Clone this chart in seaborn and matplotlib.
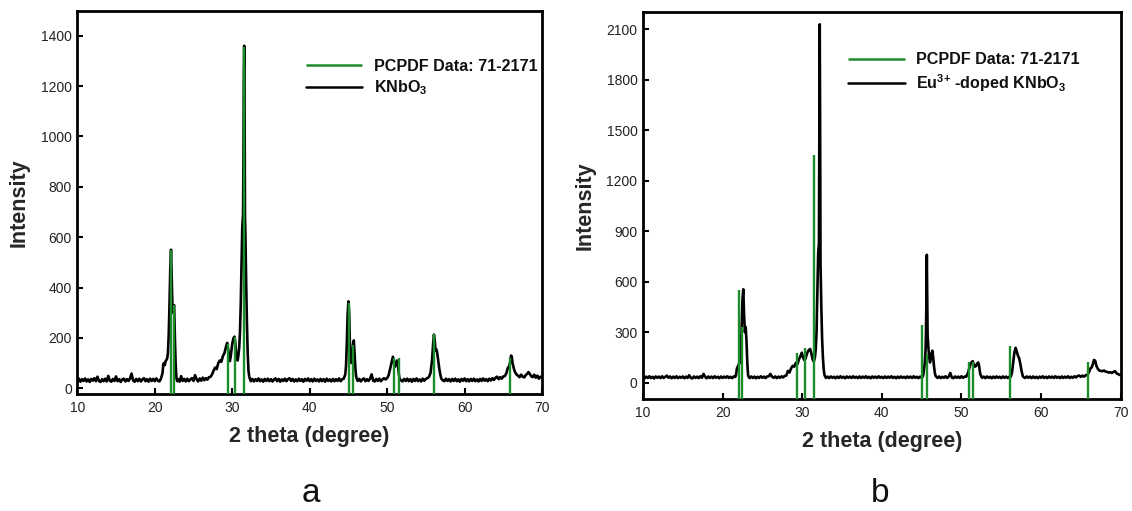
import numpy as np
import pandas as pd
import matplotlib
matplotlib.use("Agg")
import matplotlib.pyplot as plt
import seaborn as sns

# ---------------------------------------------------------------------------
# Reference stick pattern (PCPDF card 71-2171): 2-theta positions and heights
# ---------------------------------------------------------------------------
pcpdf_two_theta = [22.1, 22.5, 29.4, 30.3, 31.5, 45.1, 45.65, 50.9, 51.5, 56.1, 65.9]
pcpdf_intensity = [550, 330, 175, 205, 1355, 340, 170, 120, 120, 215, 120]

# ---------------------------------------------------------------------------
# Measured pattern, undoped KNbO3  (2-theta, intensity)
# ---------------------------------------------------------------------------
knbo3_pattern = [
    (10.0, 30), (10.2, 38), (10.4, 26), (10.6, 36), (10.8, 29), (11.0, 39), (11.2, 27),
    (11.4, 35), (11.6, 25), (11.8, 37), (12.0, 30), (12.2, 40), (12.4, 28), (12.6, 46),
    (12.8, 29), (13.0, 25), (13.2, 36), (13.4, 28), (13.6, 38), (13.8, 27), (14.0, 49),
    (14.2, 30), (14.4, 26), (14.6, 37), (14.8, 29), (15.0, 47), (15.2, 28), (15.4, 36),
    (15.6, 25), (15.8, 35), (16.0, 38), (16.2, 27), (16.4, 36), (16.6, 29), (16.8, 39),
    (17.0, 58), (17.2, 31), (17.4, 26), (17.6, 37), (17.8, 28), (18.0, 38), (18.2, 27),
    (18.4, 35), (18.6, 40), (18.8, 28), (19.0, 36), (19.2, 26), (19.4, 38), (19.6, 29),
    (19.8, 37), (20.0, 28), (20.2, 39), (20.4, 30), (20.6, 27), (20.8, 38),
    (21.0, 60), (21.1, 95), (21.2, 100), (21.3, 92), (21.4, 108), (21.5, 112), (21.6, 118),
    (21.7, 140), (21.8, 210), (21.9, 330), (22.0, 470), (22.1, 550), (22.2, 420),
    (22.3, 300), (22.4, 320), (22.5, 330), (22.6, 200), (22.7, 90), (22.8, 40), (22.9, 28),
    (23.0, 36), (23.2, 26), (23.4, 48), (23.6, 29), (23.8, 37), (24.0, 27), (24.2, 38),
    (24.4, 28), (24.6, 35), (24.8, 40), (25.0, 29), (25.2, 52), (25.4, 36), (25.6, 27),
    (25.8, 39), (26.0, 30), (26.2, 42), (26.4, 32), (26.6, 40), (26.8, 34), (27.0, 44),
    (27.2, 45), (27.4, 55), (27.6, 70), (27.8, 82), (28.0, 76), (28.2, 100), (28.4, 110),
    (28.6, 105), (28.8, 128), (29.0, 140), (29.2, 165), (29.35, 180), (29.5, 150),
    (29.6, 120), (29.7, 108), (29.8, 125), (29.9, 150), (30.0, 175), (30.15, 198),
    (30.3, 205), (30.4, 180), (30.5, 140), (30.6, 118), (30.7, 110), (30.8, 130),
    (30.9, 160), (31.0, 220), (31.1, 330), (31.2, 480), (31.3, 640), (31.4, 690),
    (31.45, 900), (31.5, 1240), (31.55, 1360), (31.6, 1100), (31.65, 680), (31.7, 620),
    (31.8, 420), (31.9, 260), (32.0, 140), (32.1, 70), (32.2, 45), (32.3, 36),
    (32.4, 28), (32.6, 37), (32.8, 27), (33.0, 36), (33.2, 29), (33.4, 39), (33.6, 28),
    (33.8, 35), (34.0, 26), (34.2, 37), (34.4, 29), (34.6, 38), (34.8, 28), (35.0, 36),
    (35.2, 27), (35.4, 35), (35.6, 39), (35.8, 28), (36.0, 37), (36.2, 26), (36.4, 35),
    (36.6, 29), (36.8, 38), (37.0, 28), (37.2, 36), (37.4, 40), (37.6, 29), (37.8, 37),
    (38.0, 27), (38.2, 35), (38.4, 28), (38.6, 38), (38.8, 29), (39.0, 36), (39.2, 26),
    (39.4, 37), (39.6, 30), (39.8, 39), (40.0, 28), (40.2, 36), (40.4, 27), (40.6, 38),
    (40.8, 29), (41.0, 35), (41.2, 27), (41.4, 37), (41.6, 28), (41.8, 36), (42.0, 26),
    (42.2, 38), (42.4, 29), (42.6, 35), (42.8, 27), (43.0, 37), (43.2, 28), (43.4, 36),
    (43.6, 29), (43.8, 39), (44.0, 28), (44.2, 36), (44.4, 38),
    (44.6, 55), (44.7, 90), (44.8, 180), (44.9, 290), (45.0, 345), (45.1, 300),
    (45.2, 170), (45.3, 110), (45.4, 100), (45.5, 130), (45.6, 175), (45.7, 190),
    (45.8, 140), (45.9, 80), (46.0, 48), (46.1, 36),
    (46.2, 29), (46.4, 37), (46.6, 27), (46.8, 35), (47.0, 39), (47.2, 28), (47.4, 36),
    (47.6, 29), (47.8, 38), (48.0, 55), (48.2, 30), (48.4, 27), (48.6, 37), (48.8, 29),
    (49.0, 38), (49.2, 28), (49.4, 35), (49.6, 40), (49.8, 35), (50.0, 40), (50.2, 52),
    (50.4, 78), (50.6, 105), (50.75, 125), (50.9, 100), (51.0, 85), (51.1, 92),
    (51.25, 110), (51.35, 105), (51.5, 60), (51.6, 38),
    (51.8, 31), (52.0, 27), (52.2, 37), (52.4, 29), (52.6, 38), (52.8, 28), (53.0, 36),
    (53.2, 26), (53.4, 37), (53.6, 29), (53.8, 39), (54.0, 28), (54.2, 35), (54.4, 27),
    (54.6, 38), (54.8, 30), (55.0, 37), (55.2, 40), (55.4, 45), (55.6, 60), (55.8, 110),
    (55.95, 180), (56.05, 213), (56.15, 190), (56.25, 150), (56.35, 155), (56.45, 145),
    (56.6, 110), (56.75, 75), (56.9, 50), (57.0, 38),
    (57.2, 31), (57.4, 28), (57.6, 38), (57.8, 29), (58.0, 36), (58.2, 27), (58.4, 37),
    (58.6, 29), (58.8, 38), (59.0, 28), (59.2, 35), (59.4, 26), (59.6, 37), (59.8, 30),
    (60.0, 39), (60.2, 28), (60.4, 36), (60.6, 27), (60.8, 37), (61.0, 29), (61.2, 38),
    (61.4, 28), (61.6, 35), (61.8, 27), (62.0, 37), (62.2, 29), (62.4, 39), (62.6, 30),
    (62.8, 36), (63.0, 28), (63.2, 38), (63.4, 31), (63.6, 40), (63.8, 33), (64.0, 42),
    (64.2, 46), (64.4, 36), (64.6, 44), (64.8, 38), (65.0, 47), (65.2, 48), (65.4, 60),
    (65.6, 82), (65.75, 85), (65.9, 105), (66.0, 130), (66.1, 125), (66.2, 100),
    (66.35, 80), (66.5, 65), (66.7, 55), (66.9, 50), (67.1, 44), (67.3, 54), (67.5, 46),
    (67.7, 43), (67.9, 52), (68.1, 58), (68.25, 64), (68.4, 58), (68.6, 48), (68.8, 44),
    (69.0, 54), (69.2, 42), (69.4, 50), (69.6, 38), (69.8, 46), (70.0, 42),
]

# ---------------------------------------------------------------------------
# Measured pattern, Eu3+-doped KNbO3  (2-theta, intensity)
# ---------------------------------------------------------------------------
eu_knbo3_pattern = [
    (10.0, 35), (10.2, 26), (10.4, 36), (10.6, 28), (10.8, 38), (11.0, 27), (11.2, 35),
    (11.4, 25), (11.6, 37), (11.8, 29), (12.0, 36), (12.2, 27), (12.4, 38), (12.6, 28),
    (12.8, 35), (13.0, 42), (13.2, 29), (13.4, 37), (13.6, 26), (13.8, 36), (14.0, 28),
    (14.2, 38), (14.4, 27), (14.6, 35), (14.8, 29), (15.0, 37), (15.2, 26), (15.4, 36),
    (15.6, 28), (15.8, 44), (16.0, 29), (16.2, 25), (16.4, 37), (16.6, 28), (16.8, 36),
    (17.0, 27), (17.2, 38), (17.4, 29), (17.6, 52), (17.8, 35), (18.0, 26), (18.2, 37),
    (18.4, 28), (18.6, 36), (18.8, 27), (19.0, 38), (19.2, 29), (19.4, 35), (19.6, 26),
    (19.8, 37), (20.0, 28), (20.2, 36), (20.4, 29), (20.6, 38), (20.8, 28), (21.0, 35),
    (21.2, 27), (21.4, 37), (21.6, 34),
    (21.7, 50), (21.8, 85), (21.9, 95), (22.0, 105), (22.1, 118), (22.2, 120), (22.3, 180),
    (22.4, 330), (22.5, 500), (22.6, 555), (22.7, 400), (22.8, 300), (22.9, 330),
    (23.0, 250), (23.1, 120), (23.2, 45), (23.3, 32),
    (23.4, 27), (23.6, 37), (23.8, 28), (24.0, 36), (24.2, 26), (24.4, 35), (24.6, 28),
    (24.8, 38), (25.0, 29), (25.2, 36), (25.4, 27), (25.6, 37), (25.8, 38), (26.0, 52),
    (26.2, 36), (26.4, 29), (26.6, 37), (26.8, 27), (27.0, 36), (27.2, 29), (27.4, 38),
    (27.6, 31), (27.8, 40), (28.0, 42), (28.2, 70), (28.4, 60), (28.6, 85), (28.8, 100),
    (29.0, 95), (29.2, 118), (29.4, 110), (29.6, 140), (29.8, 160), (29.95, 178),
    (30.1, 150), (30.25, 135), (30.4, 140), (30.55, 165), (30.7, 185), (30.85, 195),
    (31.0, 200), (31.15, 175), (31.3, 140), (31.45, 125), (31.6, 150), (31.7, 200),
    (31.8, 300), (31.9, 520), (32.0, 760), (32.05, 800), (32.1, 820), (32.15, 1540),
    (32.2, 2130), (32.25, 1540), (32.3, 700), (32.4, 450), (32.5, 260), (32.6, 150),
    (32.7, 80), (32.8, 45), (32.9, 35),
    (33.0, 28), (33.2, 36), (33.4, 27), (33.6, 37), (33.8, 29), (34.0, 35), (34.2, 26),
    (34.4, 36), (34.6, 28), (34.8, 38), (35.0, 29), (35.2, 35), (35.4, 26), (35.6, 37),
    (35.8, 29), (36.0, 36), (36.2, 28), (36.4, 38), (36.6, 29), (36.8, 35), (37.0, 27),
    (37.2, 37), (37.4, 28), (37.6, 36), (37.8, 29), (38.0, 38), (38.2, 28), (38.4, 35),
    (38.6, 26), (38.8, 37), (39.0, 29), (39.2, 36), (39.4, 28), (39.6, 38), (39.8, 29),
    (40.0, 35), (40.2, 27), (40.4, 37), (40.6, 28), (40.8, 36), (41.0, 29), (41.2, 38),
    (41.4, 28), (41.6, 35), (41.8, 26), (42.0, 36), (42.2, 28), (42.4, 37), (42.6, 29),
    (42.8, 35), (43.0, 27), (43.2, 37), (43.4, 29), (43.6, 36), (43.8, 28), (44.0, 38),
    (44.2, 29), (44.4, 35), (44.6, 27), (44.8, 36), (45.0, 29), (45.1, 33),
    (45.2, 45), (45.3, 80), (45.4, 120), (45.5, 200), (45.55, 300), (45.6, 500),
    (45.65, 760), (45.7, 500), (45.75, 280), (45.85, 210), (45.95, 150), (46.05, 120),
    (46.15, 140), (46.25, 175), (46.35, 190), (46.45, 150), (46.55, 100), (46.65, 60),
    (46.75, 40), (46.9, 33),
    (47.0, 28), (47.2, 37), (47.4, 27), (47.6, 35), (47.8, 29), (48.0, 38), (48.2, 28),
    (48.4, 36), (48.6, 58), (48.8, 30), (49.0, 27), (49.2, 37), (49.4, 29), (49.6, 36),
    (49.8, 28), (50.0, 38), (50.2, 29), (50.4, 36), (50.6, 35), (50.8, 55), (50.95, 80),
    (51.1, 105), (51.25, 120), (51.4, 128), (51.55, 110), (51.7, 95), (51.85, 100),
    (52.0, 115), (52.1, 120), (52.2, 105), (52.35, 55), (52.5, 35),
    (52.6, 29), (52.8, 36), (53.0, 27), (53.2, 37), (53.4, 29), (53.6, 35), (53.8, 26),
    (54.0, 36), (54.2, 28), (54.4, 37), (54.6, 29), (54.8, 35), (55.0, 27), (55.2, 37),
    (55.4, 29), (55.6, 36), (55.8, 28), (56.0, 35), (56.2, 36), (56.35, 60), (56.5, 120),
    (56.65, 180), (56.8, 207), (56.95, 185), (57.1, 160), (57.25, 145), (57.4, 110),
    (57.55, 70), (57.7, 40), (57.8, 33),
    (58.0, 28), (58.2, 37), (58.4, 29), (58.6, 36), (58.8, 27), (59.0, 37), (59.2, 28),
    (59.4, 35), (59.6, 26), (59.8, 36), (60.0, 29), (60.2, 38), (60.4, 28), (60.6, 35),
    (60.8, 27), (61.0, 37), (61.2, 29), (61.4, 36), (61.6, 28), (61.8, 38), (62.0, 29),
    (62.2, 35), (62.4, 27), (62.6, 37), (62.8, 28), (63.0, 36), (63.2, 29), (63.4, 38),
    (63.6, 28), (63.8, 35), (64.0, 29), (64.2, 38), (64.4, 31), (64.6, 40), (64.8, 42),
    (65.0, 34), (65.2, 42), (65.4, 36), (65.6, 44), (65.8, 45), (66.0, 60), (66.2, 85),
    (66.35, 90), (66.5, 110), (66.65, 135), (66.8, 130), (66.95, 100), (67.1, 85),
    (67.3, 72), (67.5, 70), (67.7, 68), (67.9, 72), (68.1, 66), (68.3, 64), (68.5, 60),
    (68.7, 62), (68.9, 58), (69.1, 64), (69.3, 68), (69.5, 55), (69.7, 50), (69.9, 46),
    (70.0, 44),
]

# Axis ticks and legend labels
x_ticks = [10, 20, 30, 40, 50, 60, 70]
y_ticks_a = [0, 200, 400, 600, 800, 1000, 1200, 1400]
y_ticks_b = [0, 300, 600, 900, 1200, 1500, 1800, 2100]
card_label = "PCPDF Data: 71-2171"
sample_label_a = r"KNbO$_3$"
sample_label_b = r"Eu$^{3{+}}$ -doped KNbO$_3$"

GREEN = "#1f8c2c"

sns.set_theme(style="ticks")
plt.rcParams["font.family"] = ["Liberation Sans", "DejaVu Sans"]
plt.rcParams["mathtext.fontset"] = "custom"
plt.rcParams["mathtext.rm"] = "Liberation Sans:bold"
plt.rcParams["mathtext.it"] = "Liberation Sans:bold"
plt.rcParams["mathtext.bf"] = "Liberation Sans:bold"
plt.rcParams["mathtext.default"] = "bf"

fig = plt.figure(figsize=(11.32, 5.11), dpi=100)
ax_a = fig.add_axes([0.0683, 0.2284, 0.4105, 0.7501])
ax_b = fig.add_axes([0.5680, 0.2192, 0.4220, 0.7573])


def draw_panel(ax, pattern, sample_label, ylim, yticks, legend_anchor, tag, tag_x):
    df = pd.DataFrame(pattern, columns=["two_theta", "intensity"])
    # reference sticks rise from the bottom of the frame
    ax.vlines(pcpdf_two_theta, ylim[0] - 50, pcpdf_intensity, colors=GREEN,
              linewidth=1.7, label=card_label, zorder=3)
    sns.lineplot(data=df, x="two_theta", y="intensity", ax=ax, color="black",
                 linewidth=1.9, sort=False, estimator=None, label=sample_label, zorder=2)
    ax.set_xlim(10, 70)
    ax.set_ylim(*ylim)
    ax.set_xticks(x_ticks)
    ax.set_yticks(yticks)
    ax.tick_params(axis="both", direction="in", length=4, width=1.5, labelsize=10,
                   pad=4, colors="black", labelcolor="#222222")
    ax.tick_params(axis="x", pad=5)
    for sp in ax.spines.values():
        sp.set_visible(True)
        sp.set_linewidth(2.0)
        sp.set_color("black")
    ax.set_xlabel("2 theta (degree)", fontsize=15.5, fontweight="bold", labelpad=8)
    ax.set_ylabel("Intensity", fontsize=15.5, fontweight="bold", labelpad=8)
    leg = ax.legend(loc="upper left", bbox_to_anchor=legend_anchor, frameon=False,
                    fontsize=11.6, handlelength=3.5, handletextpad=0.7,
                    labelspacing=0.3, borderpad=0, borderaxespad=0)
    for t in leg.get_texts():
        t.set_fontweight("bold")
        t.set_color("#111111")
    for h in leg.legend_handles:
        h.set_linewidth(1.8)
    fig.text(tag_x, 0.035, tag, fontsize=24, ha="center", va="center", color="#111111")


draw_panel(ax_a, knbo3_pattern, sample_label_a, (-24, 1498), y_ticks_a,
           (0.492, 0.876), "a", 311 / 1132)
draw_panel(ax_b, eu_knbo3_pattern, sample_label_b, (-97, 2203), y_ticks_b,
           (0.430, 0.896), "b", 880 / 1132)

fig.savefig("out.png", dpi=100)
